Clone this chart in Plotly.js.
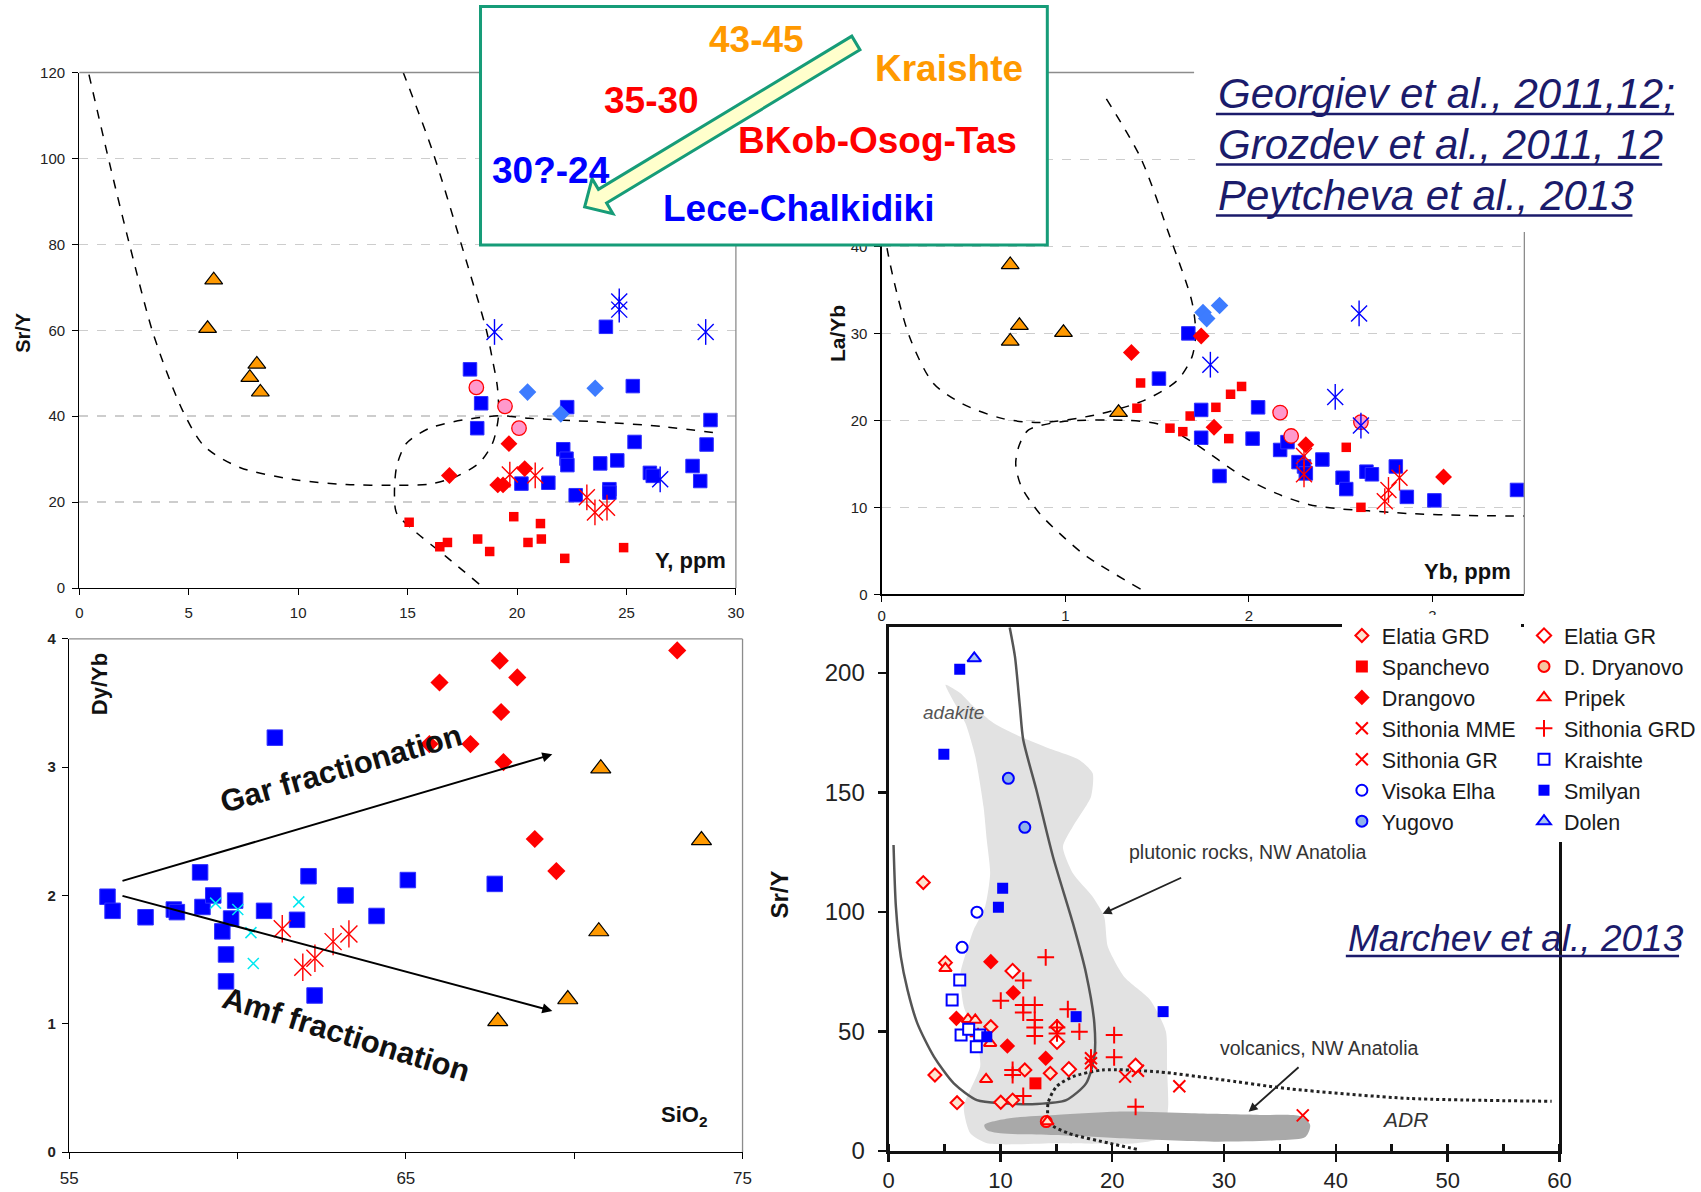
<!DOCTYPE html>
<html><head><meta charset="utf-8">
<script src="https://cdn.plot.ly/plotly-3.0.1.min.js"></script>
<style>
html,body{margin:0;padding:0;background:#fff;overflow:hidden;width:1701px;height:1192px;}
#wrap{position:relative;width:1701px;height:1192px;overflow:hidden;}
#chart{width:1701px;height:1192px;display:block;}
</style>
</head><body><div id="wrap"><div id="chart"></div></div>
<script>
// ---------- Top-left: Sr/Y vs Y (ppm) ----------
const tlTriX = [6.14, 5.86, 8.11, 7.79, 8.27];
const tlTriY = [71.7, 60.4, 52.1, 49.0, 45.6];
const tlBlueSqX = [17.85, 18.36, 18.18, 24.06, 22.29, 25.29, 28.84, 28.66, 25.37, 22.11, 22.26, 22.3, 23.8, 24.58, 26.07, 26.2, 28.02, 28.37, 20.2, 21.43, 22.68, 24.22, 24.22];
const tlBlueSqY = [50.9, 43.0, 37.2, 60.8, 42.1, 47.0, 39.1, 33.4, 34.0, 32.3, 30.1, 28.6, 29.0, 29.7, 26.8, 26.1, 28.4, 24.9, 24.3, 24.5, 21.6, 23.0, 22.2];
const tlBlueDiaX = [20.48, 23.57, 22.0];
const tlBlueDiaY = [45.6, 46.5, 40.5];
const tlPinkX = [18.14, 19.45, 20.09];
const tlPinkY = [46.7, 42.3, 37.2];
const tlBlueAstX = [18.97, 24.67, 24.67, 28.62, 26.54];
const tlBlueAstY = [59.6, 66.7, 64.8, 59.6, 25.3];
const tlRedDiaX = [16.91, 19.63, 20.35, 19.12, 19.36];
const tlRedDiaY = [26.2, 33.6, 27.8, 24.0, 24.0];
const tlRedAstX = [19.67, 20.83, 23.19, 23.56, 24.11];
const tlRedAstY = [26.4, 26.2, 21.1, 17.6, 18.7];
const tlRedSqX = [15.07, 16.47, 16.82, 18.2, 18.75, 19.85, 20.5, 21.07, 21.11, 22.18, 24.87];
const tlRedSqY = [15.3, 9.6, 10.6, 11.4, 8.5, 16.6, 10.6, 15.0, 11.4, 6.9, 9.4];
const tlCurve1X = [0.44, 1.43, 2.31, 3.4, 4.72, 5.71, 7.36, 10.0, 12.2, 14.5, 16.0, 17.2, 18.27, 18.88, 19.15, 19.1, 18.88, 18.6, 17.43, 16.12, 14.8];
const tlCurve1Y = [119.5, 97.8, 79.6, 58.8, 41.3, 33.0, 28.0, 25.1, 24.1, 23.9, 24.2, 25.9, 29.1, 33.7, 39.9, 46.9, 53.1, 60.0, 80.4, 102, 120];
const tlCurve2X = [18.27, 16.76, 15.26, 14.5, 14.4, 14.5, 14.95, 16.0, 17.52, 19.18, 20.54, 23.56, 26.6, 29.37];
const tlCurve2Y = [0.9, 7.3, 13.5, 17.4, 21.4, 28.3, 33.7, 37.2, 39.1, 40.1, 39.5, 38.7, 37.6, 35.9];
const tlXTicks = [0, 5, 10, 15, 20, 25, 30];

// ---------- Top-right: La/Yb vs Yb (ppm) ----------
const trTriX = [0.70, 0.75, 0.70, 0.99, 1.29];
const trTriY = [37.9, 30.9, 29.1, 30.1, 20.9];
const trBlueDiaX = [1.75, 1.77, 1.84];
const trBlueDiaY = [32.4, 31.7, 33.2];
const trBlueSqX = [1.67, 1.51, 1.74, 1.74, 1.84, 2.05, 2.02, 2.17, 2.21, 2.27, 2.30, 2.31, 2.40, 2.51, 2.53, 2.64, 2.67, 2.80, 2.86, 3.01, 3.46];
const trBlueSqY = [30.0, 24.8, 21.2, 18.0, 13.6, 21.5, 17.9, 16.6, 17.5, 15.2, 14.7, 13.9, 15.5, 13.4, 12.1, 14.1, 13.8, 14.7, 11.2, 10.8, 12.0];
const trRedDiaX = [1.36, 1.74, 1.81, 2.31, 3.06];
const trRedDiaY = [27.8, 29.7, 19.2, 17.2, 13.5];
const trRedSqX = [1.41, 1.39, 1.57, 1.64, 1.68, 1.82, 1.89, 1.90, 1.96, 2.53, 2.61];
const trRedSqY = [24.3, 21.4, 19.1, 18.7, 20.5, 21.5, 17.9, 23.0, 23.9, 16.9, 10.0];
const trPinkX = [2.17, 2.23, 2.61];
const trPinkY = [20.9, 18.2, 19.8];
const trBlueAstX = [1.79, 2.60, 2.47, 2.61];
const trBlueAstY = [26.4, 32.3, 22.7, 19.4];
const trRedAstX = [2.30, 2.30, 2.76, 2.74, 2.82];
const trRedAstY = [15.9, 13.8, 12.0, 10.7, 13.4];
const trCurveAX = [0.0, 0.03, 0.15, 0.28, 0.44, 0.66, 0.86, 1.157, 1.43, 1.61, 1.69, 1.71, 1.69, 1.57, 1.41, 1.22];
const trCurveAY = [46.0, 39.7, 29.7, 24.3, 21.9, 20.2, 19.75, 20.6, 22.3, 24.6, 27.3, 30.0, 33.6, 41.1, 50.2, 57.1];
const trCurveBX = [1.41, 1.12, 1.0, 0.86, 0.76, 0.73, 0.75, 0.80, 0.98, 1.34, 1.52, 1.70, 1.97, 2.15, 2.33, 2.51, 2.65, 2.86, 3.19, 3.5];
const trCurveBY = [0.6, 4.3, 6.4, 9.3, 12.4, 15.0, 17.2, 18.9, 19.85, 20.0, 19.5, 17.4, 13.5, 11.6, 10.3, 9.8, 9.6, 9.3, 9.06, 9.0];
const trXTicks = [0, 1, 2, 3];

// ---------- Bottom-left: Dy/Yb vs SiO2 ----------
const blRedDiaX = [66.0, 67.79, 68.31, 67.83, 66.92, 67.90, 73.06, 68.83, 69.47, 65.70];
const blRedDiaY = [3.66, 3.83, 3.70, 3.43, 3.18, 3.04, 3.91, 2.44, 2.19, 3.18];
const blBlueSqX = [56.14, 56.29, 57.27, 58.11, 58.2, 58.89, 58.96, 59.28, 59.93, 59.81, 59.55, 59.66, 59.66, 61.11, 60.79, 61.77, 62.11, 62.29, 63.21, 64.13, 65.06, 67.64];
const blBlueSqY = [1.99, 1.88, 1.83, 1.89, 1.87, 2.18, 1.91, 2.0, 1.96, 1.82, 1.72, 1.54, 1.33, 3.23, 1.88, 1.81, 2.15, 1.22, 2.0, 1.84, 2.12, 2.09];
const blCyanX = [59.35, 60.01, 60.40, 60.47, 61.82];
const blCyanY = [1.94, 1.89, 1.71, 1.47, 1.95];
const blRedAstX = [61.33, 61.94, 62.30, 62.84, 63.31];
const blRedAstY = [1.74, 1.44, 1.51, 1.64, 1.70];
const blTriX = [70.79, 73.78, 70.73, 69.81, 67.73];
const blTriY = [2.99, 2.43, 1.72, 1.19, 1.02];
const blXTicks = [55, 60, 65, 70, 75];
const blXTickText = ['55', '', '65', '', '75'];
const garArrow = {from: [56.54, 2.11], to: [69.35, 3.10]};
const amfArrow = {from: [56.54, 2.00], to: [69.35, 1.10]};

// ---------- Bottom-right: Sr/Y vs Y (Marchev et al., 2013) ----------
const brElatiaGRDX = [3.1, 4.14, 6.12, 10.03, 11.09, 12.18, 14.46, 15.06, 9.14, 5.08];
const brElatiaGRDY = [112.3, 31.8, 20.2, 20.4, 21.3, 33.9, 32.5, 52.0, 52.0, 78.8];
const brElatiaGRX = [11.09, 16.12, 15.06, 22.09];
const brElatiaGRY = [75.3, 34.2, 45.7, 35.6];
const brSpanX = [13.13];
const brSpanY = [28.3];
const brDryX = [14.1];
const brDryY = [12.3];
const brDrangX = [9.14, 11.15, 6.06, 10.62, 14.05];
const brDrangY = [79.2, 66.2, 55.5, 43.9, 38.8];
const brPripekX = [5.08, 7.1, 7.75, 8.72, 9.08, 14.2];
const brPripekY = [76.4, 55.1, 54.8, 30.0, 45.1, 12.3];
const brSMMEX = [21.15, 22.3, 26.0, 37.04];
const brSMMEY = [31.1, 33.6, 27.1, 14.9];
const brSGRDX = [14.05, 12.04, 10.03, 12.04, 13.07, 12.04, 13.07, 13.07, 13.07, 15.06, 15.06, 16.03, 17.06, 20.17, 20.17, 11.09, 11.09, 12.04, 22.09, 8.0];
const brSGRDY = [81.0, 71.3, 62.9, 61.1, 61.1, 57.9, 54.8, 51.7, 48.1, 51.7, 49.2, 59.3, 49.9, 48.5, 39.2, 33.9, 31.8, 23.0, 18.5, 48.0];
const brSGRX = [18.1, 18.1];
const brSGRY = [38.8, 36.7];
const brKraX = [6.36, 5.68, 6.48, 7.16, 8.14, 7.84];
const brKraY = [71.5, 63.2, 48.5, 50.9, 48.5, 43.6];
const brVisX = [7.9, 6.57];
const brVisY = [99.9, 85.2];
const brYugX = [10.71, 12.18];
const brYugY = [155.9, 135.4];
const brSmilX = [6.36, 4.94, 10.2, 9.82, 16.77, 24.55, 8.78];
const brSmilY = [201.5, 166.0, 109.9, 102.0, 56.2, 58.3, 47.8];
const brDolenX = [7.66];
const brDolenY = [206.1];
const brPlutX = [5.09, 6.42, 7.6, 9.38, 11.74, 14.7, 17.06, 18.25, 18.1, 16.48, 15.59, 16.48, 18.25, 19.28, 19.6, 21.06, 23.4, 24.8, 24.9, 25.0, 24.5, 22.0, 15.0, 8.8, 7.3, 6.72, 8.19, 7.9, 6.72, 6.42, 7.0, 7.6, 8.63, 9.08, 8.78, 8.49, 7.75, 6.86, 5.09];
const brPlutY = [195, 191.5, 185.9, 179, 173.4, 167.8, 163.6, 158, 148.2, 135.7, 127.3, 116.2, 106.4, 98.0, 85.5, 72.9, 63.2, 50, 35, 18.5, 5.9, 3.2, 3.2, 3.2, 7.4, 18.5, 35.3, 46.4, 60.4, 74.3, 84.1, 92.5, 102.2, 116.2, 130, 144, 165, 179, 195];
const brAdrX = [8.56, 10.8, 14.9, 21.0, 27.1, 33.2, 36.9, 37.7, 37.3, 35.2, 29.1, 21.0, 14.9, 10.0, 8.77, 8.56];
const brAdrY = [10.9, 13.7, 15.1, 16.5, 15.8, 15.1, 14.4, 10.9, 6.0, 4.6, 3.9, 5.3, 6.7, 7.4, 8.8, 10.9];
const brSolidX = [0.44, 0.65, 1.09, 1.69, 2.57, 4.05, 5.83, 7.9, 10.27, 13.22, 15.88, 17.66, 18.4, 18.4, 17.66, 16.48, 14.7, 13.22, 12.04, 11.74, 11.3, 10.83];
const brSolidY = [128, 102.2, 81.3, 67.4, 53.4, 39.5, 28.3, 21.3, 20.0, 19.7, 21.3, 28.3, 39.5, 53.4, 74.3, 95.3, 123.1, 151, 172, 185.9, 206.8, 219];
const brDotX = [22.2, 19.8, 16.1, 14.4, 14.26, 15.0, 16.48, 19.14, 24.15, 29.5, 35.9, 46.5, 59.3];
const brDotY = [0.7, 3.2, 7.4, 11.6, 20.0, 26.9, 31.1, 33.9, 33.1, 30.0, 26.0, 22.0, 20.8];
const plutArrow = {from: [26.3, 114.6], to: [19.14, 99.2]};
const volcArrow = {from: [36.8, 35.6], to: [32.2, 16.4]};

// ---------- texts ----------
const boxTexts = [
  {t: '43-45', c: '#ff9900', x: 763, y: 40},
  {t: 'Kraishte', c: '#ff9900', x: 957, y: 69},
  {t: '35-30', c: '#ff0000', x: 656.5, y: 100.5},
  {t: 'BKob-Osog-Tas', c: '#ff0000', x: 885, y: 140},
  {t: '30?-24', c: '#0000ff', x: 556, y: 170.7},
  {t: 'Lece-Chalkidiki', c: '#0000ff', x: 805, y: 208.3}
];
const citations = [
  {t: 'Georgiev et al., 2011,12;', x: 1226, y: 93.6, size: 42, ux1: 1688, uy: 114},
  {t: 'Grozdev et al., 2011, 12', x: 1226, y: 144, size: 42, ux1: 1676, uy: 164.5},
  {t: 'Peytcheva et al., 2013', x: 1226, y: 195.4, size: 42, ux1: 1646, uy: 215.5},
  {t: 'Marchev et al., 2013', x: 1357, y: 938.6, size: 37, ux1: 1693, uy: 956}
];

// ---------- build ----------
const W = 1701, H = 1192;
const px = v => v / W;
const py = v => 1 - v / H;
const FONT = 'Liberation Sans, Arial, Helvetica, sans-serif';
const RED = '#ff0000', BLUE = '#0000ff', ORANGE = '#ff9900';

function sc(xa, ya, x, y, marker, extra) {
  return Object.assign({type: 'scatter', mode: 'markers', x: x, y: y, xaxis: xa, yaxis: ya,
    marker: marker, showlegend: false, hoverinfo: 'skip', cliponaxis: false}, extra || {});
}
function ast(xa, ya, x, y, color, size, width, extra) {
  return [
    sc(xa, ya, x, y, {symbol: 'x-thin-open', size: size, color: color, line: {color: color, width: width}}, extra),
    sc(xa, ya, x, y, {symbol: 'line-ns-open', size: size * 1.15, color: color, line: {color: color, width: width}})
  ];
}
function curve(xa, ya, x, y, line, extra) {
  return Object.assign({type: 'scatter', mode: 'lines', x: x, y: y, xaxis: xa, yaxis: ya,
    line: line, showlegend: false, hoverinfo: 'skip'}, extra || {});
}

const dashLine = {color: '#000', width: 1.5, dash: 'dash', shape: 'spline', smoothing: 0.8};
const traces = [];

traces.push(curve('x', 'y', tlCurve1X, tlCurve1Y, dashLine));
traces.push(curve('x', 'y', tlCurve2X, tlCurve2Y, dashLine));
traces.push(sc('x', 'y', tlRedSqX, tlRedSqY, {symbol: 'square', size: 9.5, color: RED}));
traces.push(sc('x', 'y', tlBlueSqX, tlBlueSqY, {symbol: 'square', size: 13.5, color: BLUE, line: {color: '#3030ff', width: 1}}));
traces.push(sc('x', 'y', tlBlueDiaX, tlBlueDiaY, {symbol: 'diamond', size: 13.5, color: '#3d7cff'}));
traces.push(sc('x', 'y', tlPinkX, tlPinkY, {symbol: 'circle', size: 14.5, color: '#ff99cc', line: {color: RED, width: 1.3}}));
traces.push(sc('x', 'y', tlRedDiaX, tlRedDiaY, {symbol: 'diamond', size: 13, color: RED}));
traces.push(...ast('x', 'y', tlBlueAstX, tlBlueAstY, BLUE, 16, 1.4));
traces.push(...ast('x', 'y', tlRedAstX, tlRedAstY, RED, 16, 1.4));
traces.push(sc('x', 'y', tlTriX, tlTriY, {symbol: 'triangle-up', size: 15.5, color: ORANGE, line: {color: '#000', width: 1.2}}));

traces.push(curve('x2', 'y2', trCurveAX, trCurveAY, dashLine));
traces.push(curve('x2', 'y2', trCurveBX, trCurveBY, dashLine));
traces.push(sc('x2', 'y2', trRedSqX, trRedSqY, {symbol: 'square', size: 9.5, color: RED}));
traces.push(sc('x2', 'y2', trBlueSqX, trBlueSqY, {symbol: 'square', size: 13.5, color: BLUE, line: {color: '#3030ff', width: 1}}));
traces.push(sc('x2', 'y2', trBlueDiaX, trBlueDiaY, {symbol: 'diamond', size: 13.5, color: '#3d7cff'}));
traces.push(sc('x2', 'y2', trPinkX, trPinkY, {symbol: 'circle', size: 14.5, color: '#ff99cc', line: {color: RED, width: 1.3}}));
traces.push(sc('x2', 'y2', trRedDiaX, trRedDiaY, {symbol: 'diamond', size: 13, color: RED}));
traces.push(...ast('x2', 'y2', trBlueAstX, trBlueAstY, BLUE, 16, 1.4));
traces.push(...ast('x2', 'y2', trRedAstX, trRedAstY, RED, 16, 1.4));
traces.push(sc('x2', 'y2', trTriX, trTriY, {symbol: 'triangle-up', size: 15.5, color: ORANGE, line: {color: '#000', width: 1.2}}));

traces.push(sc('x3', 'y3', blBlueSqX, blBlueSqY, {symbol: 'square', size: 15.5, color: BLUE, line: {color: '#3030ff', width: 1}}));
traces.push(sc('x3', 'y3', blCyanX, blCyanY, {symbol: 'x-thin-open', size: 11, color: '#00e8f0', line: {color: '#00e8f0', width: 1.5}}));
traces.push(...ast('x3', 'y3', blRedAstX, blRedAstY, RED, 17, 1.4));
traces.push(sc('x3', 'y3', blRedDiaX, blRedDiaY, {symbol: 'diamond', size: 14, color: RED}));
traces.push(sc('x3', 'y3', blTriX, blTriY, {symbol: 'triangle-up', size: 17.5, color: ORANGE, line: {color: '#000', width: 1.2}}));

traces.push(curve('x4', 'y4', brPlutX, brPlutY, {color: '#e2e2e2', width: 0, shape: 'spline', smoothing: 0.6}, {fill: 'toself', fillcolor: '#e2e2e2'}));
traces.push(curve('x4', 'y4', brAdrX, brAdrY, {color: '#a9a9a9', width: 0, shape: 'spline', smoothing: 0.8}, {fill: 'toself', fillcolor: '#a9a9a9'}));
traces.push(curve('x4', 'y4', brSolidX, brSolidY, {color: '#555', width: 2.5, shape: 'spline', smoothing: 0.7}));
traces.push(curve('x4', 'y4', brDotX, brDotY, {color: '#222', width: 3, dash: 'dot', shape: 'spline', smoothing: 0.7}));

function lg(name, x, y, marker, legend) {
  return sc('x4', 'y4', x, y, marker, {name: name, showlegend: true, legend: legend, cliponaxis: true});
}
const L1 = 'legend', L2 = 'legend2';
traces.push(lg('Elatia GRD', brElatiaGRDX, brElatiaGRDY, {symbol: 'diamond', size: 10, color: '#fde3cf', line: {color: RED, width: 2}}, L1));
traces.push(lg('Spanchevo', brSpanX, brSpanY, {symbol: 'square', size: 12, color: RED}, L1));
traces.push(lg('Drangovo', brDrangX, brDrangY, {symbol: 'diamond', size: 12, color: RED}, L1));
traces.push(lg('Sithonia MME', brSMMEX, brSMMEY, {symbol: 'x-thin-open', size: 12, color: RED, line: {color: RED, width: 2}}, L1));
traces.push(lg('Sithonia GR', brSGRX, brSGRY, {symbol: 'x-thin-open', size: 12, color: RED, line: {color: RED, width: 2}}, L1));
traces.push(sc('x4', 'y4', brSGRX, brSGRY, {symbol: 'line-ns-open', size: 13, color: RED, line: {color: RED, width: 2}}));
traces.push(lg('Visoka Elha', brVisX, brVisY, {symbol: 'circle', size: 11, color: '#fff', line: {color: BLUE, width: 2}}, L1));
traces.push(lg('Yugovo', brYugX, brYugY, {symbol: 'circle', size: 11, color: '#8fb2ea', line: {color: BLUE, width: 2}}, L1));
traces.push(lg('Elatia GR', brElatiaGRX, brElatiaGRY, {symbol: 'diamond', size: 11, color: '#fff', line: {color: RED, width: 2}}, L2));
traces.push(lg('D. Dryanovo', brDryX, brDryY, {symbol: 'circle', size: 11, color: '#f6c6a0', line: {color: RED, width: 2}}, L2));
traces.push(lg('Pripek', brPripekX, brPripekY, {symbol: 'triangle-up', size: 11, color: '#fde3cf', line: {color: RED, width: 2}}, L2));
traces.push(lg('Sithonia GRD', brSGRDX, brSGRDY, {symbol: 'cross-thin-open', size: 12, color: RED, line: {color: RED, width: 2}}, L2));
traces.push(lg('Kraishte', brKraX, brKraY, {symbol: 'square', size: 11, color: '#fff', line: {color: BLUE, width: 2}}, L2));
traces.push(lg('Smilyan', brSmilX, brSmilY, {symbol: 'square', size: 11, color: BLUE}, L2));
traces.push(lg('Dolen', brDolenX, brDolenY, {symbol: 'triangle-up', size: 12, color: '#a9c4f0', line: {color: BLUE, width: 2}}, L2));

const tickFont = {family: FONT, size: 15, color: '#222'};
function baseAxis(o) {
  return Object.assign({showline: true, linecolor: '#000', linewidth: 1.2, ticks: 'outside', ticklen: 6,
    tickcolor: '#000', tickwidth: 1, zeroline: false, showgrid: false, tickfont: tickFont, fixedrange: true}, o);
}
const gridOpts = {showgrid: true, gridcolor: '#cdcdcd', gridwidth: 1.5, griddash: 'dash'};

const layout = {
  width: W, height: H,
  margin: {l: 0, r: 0, t: 0, b: 0},
  paper_bgcolor: '#fff', plot_bgcolor: 'rgba(0,0,0,0)',
  font: {family: FONT},
  xaxis: baseAxis({domain: [px(80), px(742)], range: [0, 30], anchor: 'y', tickvals: tlXTicks, ticklabelstandoff: 5}),
  yaxis: baseAxis(Object.assign({domain: [py(588), py(72.5)], range: [0, 120], anchor: 'x', dtick: 20, ticklabelstandoff: 4}, gridOpts)),
  xaxis2: baseAxis({domain: [px(889), px(1537)], range: [0, 3.5], anchor: 'y2', tickvals: trXTicks, ticklabelstandoff: 1}),
  yaxis2: baseAxis(Object.assign({domain: [py(594.3), py(72.5)], range: [0, 60], anchor: 'x2', dtick: 10, ticklabelstandoff: 4}, gridOpts)),
  xaxis3: baseAxis({domain: [px(69.7), px(748.7)], range: [55, 75], anchor: 'y3', tickvals: blXTicks, ticktext: blXTickText,
    tickfont: {family: FONT, size: 17, color: '#222'}, ticklabelstandoff: 4}),
  yaxis3: baseAxis({domain: [py(1152), py(638.9)], range: [0, 4], anchor: 'x3', dtick: 1,
    tickfont: {family: FONT, size: 15, color: '#222', weight: 'bold'}, ticklabelstandoff: 3}),
  xaxis4: baseAxis({domain: [px(896), px(1572.4)], range: [0, 60], anchor: 'y4', dtick: 10, mirror: true,
    linecolor: '#111', linewidth: 3, ticklen: 8, tickwidth: 2.5, tickcolor: '#111',
    minor: {dtick: 5, ticks: 'inside', ticklen: 7, tickwidth: 2.5, tickcolor: '#111'},
    tickfont: {family: FONT, size: 22, color: '#222'}, ticklabelstandoff: 0}),
  yaxis4: baseAxis({domain: [py(1151), py(627)], range: [0, 219.2], anchor: 'x4', dtick: 50, mirror: true,
    linecolor: '#111', linewidth: 3, ticklen: 8, tickwidth: 2.5, tickcolor: '#111',
    tickfont: {family: FONT, size: 24, color: '#222'}, ticklabelstandoff: 8}),
  legend: {x: px(1353), y: py(615), xanchor: 'left', yanchor: 'top', bgcolor: '#fff', borderwidth: 0,
    font: {family: FONT, size: 21.5, color: '#1a1a1a'}, tracegroupgap: 0, itemclick: false},
  legend2: {x: px(1537), y: py(615), xanchor: 'left', yanchor: 'top', bgcolor: '#fff', borderwidth: 0,
    font: {family: FONT, size: 21.5, color: '#1a1a1a'}, tracegroupgap: 0, itemclick: false},
  shapes: [],
  annotations: []
};

const S = layout.shapes, A = layout.annotations;
function pline(x0, y0, x1, y1, color, width) {
  S.push({type: 'line', xref: 'paper', yref: 'paper', x0: px(x0), y0: py(y0), x1: px(x1), y1: py(y1),
    line: {color: color, width: width}, layer: 'above'});
}
const FRAME = '#8c8c8c';
pline(80, 72.5, 1204, 72.5, FRAME, 1.3);
pline(742, 72.5, 742, 588, FRAME, 1.3);
pline(1537, 72.5, 1537, 594.3, FRAME, 1.3);
pline(69.7, 638.9, 748.7, 638.9, FRAME, 1.3);
pline(748.7, 638.9, 748.7, 1152, FRAME, 1.3);
S.push({type: 'rect', xref: 'paper', yref: 'paper', x0: px(1205), y0: py(0), x1: 1, y1: py(232),
  fillcolor: '#fff', line: {width: 0}, layer: 'above'});
S.push({type: 'rect', xref: 'paper', yref: 'paper', x0: px(484.5), y0: py(6.5), x1: px(1056), y1: py(245),
  fillcolor: '#fff', line: {color: '#169c78', width: 3}, layer: 'above'});
(function () {
  const T = [863, 43], P = [589.5, 207];
  const dx = P[0] - T[0], dy = P[1] - T[1], len = Math.hypot(dx, dy);
  const u = [dx / len, dy / len], n = [-u[1], u[0]];
  const h = 8, Hh = 20.4, Lh = 21;
  const neck = [P[0] - u[0] * Lh, P[1] - u[1] * Lh];
  const pts = [
    [T[0] + n[0] * h, T[1] + n[1] * h],
    [neck[0] + n[0] * h, neck[1] + n[1] * h],
    [neck[0] + n[0] * Hh, neck[1] + n[1] * Hh],
    P,
    [neck[0] - n[0] * Hh, neck[1] - n[1] * Hh],
    [neck[0] - n[0] * h, neck[1] - n[1] * h],
    [T[0] - n[0] * h, T[1] - n[1] * h]
  ];
  const path = pts.map((p, i) => (i ? 'L' : 'M') + px(p[0]).toFixed(5) + ',' + py(p[1]).toFixed(5)).join(' ') + ' Z';
  S.push({type: 'path', xref: 'paper', yref: 'paper', path: path, fillcolor: '#ffffcc',
    line: {color: '#169c78', width: 3}, layer: 'above'});
})();
citations.forEach(c => pline(c.x, c.uy, c.ux1, c.uy, '#1b1b6b', 2.5));

function ann(text, x, y, font, extra) {
  A.push(Object.assign({text: text, x: px(x), y: py(y), xref: 'paper', yref: 'paper', showarrow: false,
    xanchor: 'center', yanchor: 'middle', font: Object.assign({family: FONT}, font)}, extra || {}));
}
boxTexts.forEach(b => ann('<b>' + b.t + '</b>', b.x, b.y, {size: 37, color: b.c}));
citations.forEach(c => ann('<i>' + c.t + '</i>', c.x, c.y, {size: c.size, color: '#1b1b6b'}, {xanchor: 'left'}));

ann('<b>Sr/Y</b>', 23, 332, {size: 20, color: '#111'}, {textangle: -90});
ann('<b>Y, ppm</b>', 696, 560, {size: 22, color: '#111'});
ann('<b>La/Yb</b>', 844, 334, {size: 21, color: '#111'}, {textangle: -90});
ann('<b>Yb, ppm</b>', 1480, 571, {size: 22, color: '#111'});
ann('<b>Dy/Yb</b>', 100, 684, {size: 22, color: '#111'}, {textangle: -90});
ann('<b>SiO<sub>2</sub></b>', 690, 1116, {size: 22, color: '#111'});
ann('<b>Sr/Y</b>', 785.5, 894.5, {size: 24, color: '#111'}, {textangle: -90});

ann('<b>Gar fractionation</b>', 344, 768, {size: 31, color: '#111'}, {textangle: -16});
ann('<b>Amf fractionation</b>', 349, 1034, {size: 31, color: '#111'}, {textangle: 17});
[garArrow, amfArrow].forEach(a => A.push({xref: 'x3', yref: 'y3', axref: 'x3', ayref: 'y3',
  x: a.to[0], y: a.to[1], ax: a.from[0], ay: a.from[1], text: '', showarrow: true,
  arrowhead: 2, arrowsize: 1, arrowwidth: 2, arrowcolor: '#000'}));

function dann(text, x, y, font) {
  A.push({text: text, x: x, y: y, xref: 'x4', yref: 'y4', showarrow: false, font: Object.assign({family: FONT}, font)});
}
dann('<i>adakite</i>', 5.83, 183.4, {size: 19, color: '#555'});
dann('plutonic rocks, NW Anatolia', 32.1, 125.1, {size: 19.5, color: '#333'});
dann('volcanics, NW Anatolia', 38.5, 43.1, {size: 19.5, color: '#333'});
dann('<i>ADR</i>', 46.2, 13.0, {size: 21, color: '#333'});
[plutArrow, volcArrow].forEach(a => A.push({xref: 'x4', yref: 'y4', axref: 'x4', ayref: 'y4',
  x: a.to[0], y: a.to[1], ax: a.from[0], ay: a.from[1], text: '', showarrow: true,
  arrowhead: 2, arrowsize: 1, arrowwidth: 1.8, arrowcolor: '#222'}));

Plotly.newPlot('chart', traces, layout, {staticPlot: true, displayModeBar: false});
</script></body></html>
